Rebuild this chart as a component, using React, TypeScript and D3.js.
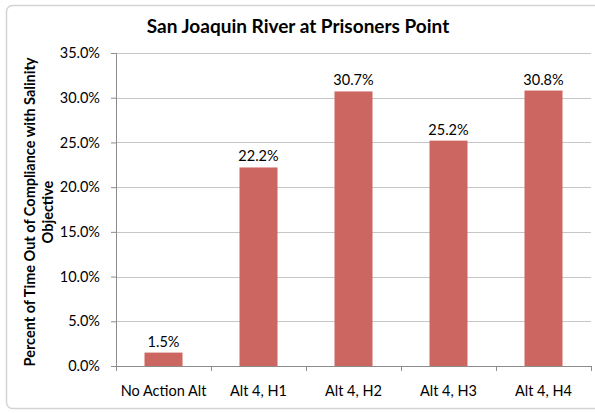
import React, { useRef, useEffect } from 'react'
import * as d3 from 'd3'

const categories = ['No Action Alt', 'Alt 4, H1', 'Alt 4, H2', 'Alt 4, H3', 'Alt 4, H4']
const values = [1.5, 22.2, 30.7, 25.2, 30.8]
const yTicks = [0, 5, 10, 15, 20, 25, 30, 35]

const title = 'San Joaquin River at Prisoners Point'
const yTitle = ['Percent of Time Out of Compliance with Salinity', 'Objective']

export default function App() {
  const svgRef = useRef<SVGSVGElement>(null)

  useEffect(() => {
    const svg = d3.select(svgRef.current)
    svg.selectAll('*').remove()

    const width = 595, height = 413
    const margin = { top: 53, right: 4, bottom: 47, left: 116 }
    const w = width - margin.left - margin.right
    const h = height - margin.top - margin.bottom
    const font = 'Lato, "Open Sans", sans-serif'

    svg.attr('width', width).attr('height', height)

    svg.append('rect')
      .attr('x', 6.5).attr('y', 5.5).attr('width', 620).attr('height', 403)
      .attr('rx', 6).attr('fill', '#fff').attr('stroke', '#d4d4d4').attr('stroke-width', 1.5)

    svg.append('text')
      .attr('x', 298).attr('y', 33)
      .attr('text-anchor', 'middle').attr('font-family', font)
      .attr('font-weight', 'bold').attr('font-size', '19px').attr('fill', '#000')
      .text(title)

    const g = svg.append('g').attr('transform', `translate(${margin.left},${margin.top})`)

    const x = d3.scaleBand().domain(categories).range([0, w]).paddingInner(0.6).paddingOuter(0.3)
    const xb = d3.scaleBand().domain(categories).range([0, w])
    const y = d3.scaleLinear().domain([0, 35]).range([h, 0])

    g.selectAll('.grid')
      .data(yTicks.filter(d => d > 0))
      .join('line')
      .attr('x1', 0).attr('x2', w)
      .attr('y1', d => Math.round(y(d)) + 0.5).attr('y2', d => Math.round(y(d)) + 0.5)
      .attr('stroke', '#c6c6c6').attr('stroke-width', 1)

    const yAxis = g.append('g')
      .call(d3.axisLeft(y).tickValues(yTicks).tickSize(5).tickPadding(11).tickFormat(d => `${(+d).toFixed(1)}%`))
    yAxis.selectAll('text').attr('font-family', font).attr('font-size', '14.5px').attr('fill', '#000')
    yAxis.selectAll('.domain, .tick line').attr('stroke', '#8c8c8c')

    g.selectAll('.bar')
      .data(values)
      .join('rect')
      .attr('x', (d, i) => x(categories[i])!)
      .attr('width', x.bandwidth())
      .attr('y', d => y(d))
      .attr('height', d => h - y(d))
      .attr('fill', '#cc6660')

    g.selectAll('.lbl')
      .data(values)
      .join('text')
      .attr('x', (d, i) => x(categories[i])! + x.bandwidth() / 2)
      .attr('y', d => y(d) - 6)
      .attr('text-anchor', 'middle').attr('font-family', font)
      .attr('font-size', '14.5px').attr('fill', '#000')
      .text(d => `${d.toFixed(1)}%`)

    const xAxis = g.append('g').attr('transform', `translate(0,${h})`)
      .call(d3.axisBottom(xb).tickSize(0).tickPadding(20))
    xAxis.selectAll('text').attr('font-family', font).attr('font-size', '14.5px').attr('fill', '#000')
    xAxis.selectAll('.domain').attr('stroke', '#8c8c8c')

    g.selectAll('.xt')
      .data(d3.range(categories.length + 1))
      .join('line')
      .attr('x1', i => Math.round(i * xb.step()) + 0.5).attr('x2', i => Math.round(i * xb.step()) + 0.5)
      .attr('y1', h).attr('y2', h + 5)
      .attr('stroke', '#8c8c8c')

    const yt = svg.append('text')
      .attr('transform', `translate(0,212) rotate(-90)`)
      .attr('text-anchor', 'middle').attr('font-family', font)
      .attr('font-weight', 'bold').attr('font-size', '14.5px').attr('fill', '#000')
    yt.append('tspan').attr('x', 0).attr('y', 35).text(yTitle[0])
    yt.append('tspan').attr('x', 0).attr('y', 53).text(yTitle[1])
  }, [])

  return <svg ref={svgRef} style={{ position: 'absolute', left: 0, top: 0, display: 'block' }} />
}
